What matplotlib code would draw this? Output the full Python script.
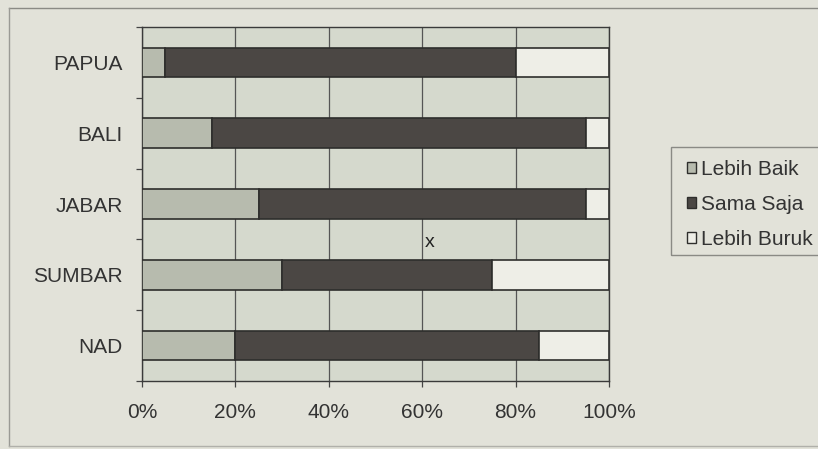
import matplotlib
matplotlib.use("Agg")
import matplotlib.pyplot as plt
from matplotlib.patches import Patch, Rectangle
import numpy as np

# Survey shares per province (percent)
provinces = ["NAD", "SUMBAR", "JABAR", "BALI", "PAPUA"]
lebih_baik = [20, 30, 25, 15, 5]
sama_saja = [65, 45, 70, 80, 75]
lebih_buruk = [15, 25, 5, 5, 20]
series_names = ["Lebih Baik", "Sama Saja", "Lebih Buruk"]
x_ticks = [0, 20, 40, 60, 80, 100]

paper = "#e2e2d9"
plot_bg = "#d5d9cd"
colors = ["#b7bbae", "#4b4744", "#eeeee7"]
edge = "#2e2e2c"

plt.rcParams["font.family"] = ["Liberation Sans", "DejaVu Sans"]
plt.rcParams["font.size"] = 15

fig = plt.figure(figsize=(8.18, 4.49), dpi=100, facecolor=paper)
ax = fig.add_axes([0.1736, 0.1514, 0.5709, 0.7884])
ax.set_facecolor(plot_bg)

y = np.arange(len(provinces))
left = np.zeros(len(provinces))
for vals, name, col in zip([lebih_baik, sama_saja, lebih_buruk], series_names, colors):
    ax.barh(y, vals, left=left, height=0.42, color=col, edgecolor=edge,
            linewidth=1.2, label=name, zorder=3)
    left = left + np.array(vals)

ax.set_xlim(0, 100)
ax.set_ylim(-0.5, len(provinces) - 0.5)
ax.set_xticks(x_ticks)
ax.set_xticklabels([f"{v}%" for v in x_ticks], color="#333333")
ax.grid(axis="x", color="#555555", linewidth=0.9, zorder=1)
ax.tick_params(axis="x", length=4, width=0.9, pad=12, color="#444444")

# category boundaries carry the tick marks, labels sit at the centres
ax.set_yticks(np.arange(-0.5, len(provinces), 1.0))
ax.set_yticklabels([])
ax.set_yticks(y, minor=True)
ax.set_yticklabels(provinces, minor=True, color="#333333")
ax.tick_params(axis="y", which="major", length=4, width=0.9, color="#444444")
ax.tick_params(axis="y", which="minor", length=0, pad=14)

for s in ax.spines.values():
    s.set_color("#3a3a3a")
    s.set_linewidth(1.0)

ax.text(61.5, 1.45, "x", ha="center", va="center", fontsize=14, color="#222222")

# legend with a frame running off the right edge
fig.patches.append(Rectangle((671 / 818, 1 - 255 / 449), 0.2, 108 / 449,
                             transform=fig.transFigure, fill=False,
                             edgecolor="#8a8a85", linewidth=1.0))
handles = [Patch(facecolor=c, edgecolor=edge, linewidth=1.0) for c in colors]
fig.legend(handles, series_names, loc="upper left",
           bbox_to_anchor=(672 / 818, 1 - 145 / 449), frameon=False,
           handlelength=0.45, handleheight=0.45, handletextpad=0.25,
           labelspacing=0.77, borderpad=0.2, fontsize=15, labelcolor="#333333")

# outer frame of the graphic
fig.add_artist(plt.Line2D([9 / 818, 1.0], [1 - 8 / 449, 1 - 8 / 449],
                          transform=fig.transFigure, color="#8a8a85", linewidth=1.0))
fig.add_artist(plt.Line2D([9 / 818, 9 / 818], [1 - 8 / 449, 1 - 446 / 449],
                          transform=fig.transFigure, color="#9a9a95", linewidth=1.0))
fig.add_artist(plt.Line2D([9 / 818, 1.0], [1 - 446 / 449, 1 - 446 / 449],
                          transform=fig.transFigure, color="#b0b0aa", linewidth=1.0))

fig.savefig("out.png", dpi=100, facecolor=paper)
